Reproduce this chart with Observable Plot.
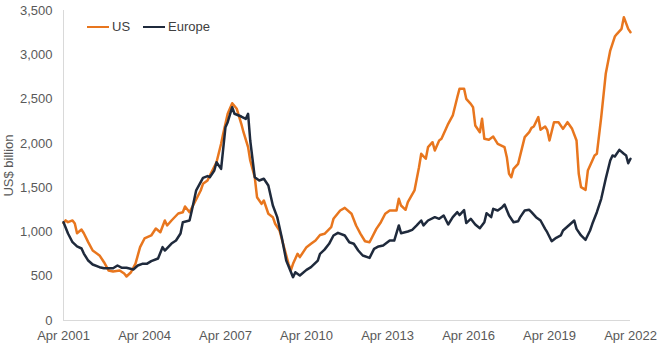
<!DOCTYPE html>
<html>
<head>
<meta charset="utf-8">
<script src="https://cdn.jsdelivr.net/npm/d3@7"></script>
<script src="https://cdn.jsdelivr.net/npm/@observablehq/plot@0.6"></script>
<style>
  html, body { margin: 0; padding: 0; background: #fff; }
  #wrap { position: relative; width: 660px; height: 351px; font-family: "Liberation Sans", Arial, sans-serif; }
  #legend { position: absolute; left: 87px; top: 19px; display: flex; align-items: center; font-size: 13px; color: #404040; }
  .item { display: flex; align-items: center; margin-right: 13px; }
  .swatch { width: 22px; height: 0; border-top: 2.5px solid; margin-right: 3px; }
</style>
</head>
<body>
<div id="wrap"></div>
<script>
const seriesNames = ["US", "Europe"];
const seriesColors = ["#E8761E", "#1F2A3C"];

const usDates = ["2001-04","2001-05","2001-06","2001-08","2001-09","2001-10","2001-12","2002-01","2002-03","2002-05","2002-08","2002-10","2002-12","2003-02","2003-05","2003-07","2003-08","2003-10","2003-12","2004-02","2004-04","2004-07","2004-09","2004-11","2005-01","2005-02","2005-04","2005-07","2005-09","2005-10","2005-12","2006-02","2006-05","2006-06","2006-08","2006-09","2006-12","2007-02","2007-03","2007-05","2007-07","2007-09","2007-11","2007-12","2008-02","2008-03","2008-05","2008-06","2008-08","2008-09","2008-11","2009-01","2009-02","2009-04","2009-06","2009-08","2009-09","2009-10","2009-12","2010-01","2010-04","2010-06","2010-08","2010-10","2010-12","2011-03","2011-04","2011-07","2011-09","2011-12","2012-02","2012-04","2012-06","2012-08","2012-11","2013-01","2013-03","2013-05","2013-08","2013-09","2013-10","2013-12","2014-01","2014-04","2014-06","2014-07","2014-09","2014-10","2014-12","2015-01","2015-03","2015-04","2015-06","2015-07","2015-09","2015-11","2015-12","2016-02","2016-03","2016-05","2016-06","2016-07","2016-09","2016-10","2016-11","2017-01","2017-03","2017-05","2017-08","2017-09","2017-10","2017-11","2017-12","2018-02","2018-05","2018-07","2018-08","2018-09","2018-11","2018-12","2019-02","2019-03","2019-04","2019-06","2019-08","2019-10","2019-12","2020-02","2020-04","2020-05","2020-06","2020-08","2020-09","2020-11","2020-12","2021-01","2021-03","2021-05","2021-07","2021-09","2021-10","2021-12","2022-01","2022-03","2022-04"];
const usValues = [1100,1130,1110,1130,1095,985,1027,985,885,790,735,658,565,553,565,530,497,545,643,828,926,960,1039,997,1129,1073,1129,1208,1223,1287,1223,1321,1468,1543,1581,1637,1787,1995,2108,2334,2453,2390,2221,2126,1957,1806,1618,1392,1317,1355,1205,1167,1092,1016,828,640,565,640,753,715,828,866,903,965,979,1053,1148,1242,1272,1205,1073,979,895,884,1035,1110,1205,1242,1242,1374,1298,1250,1336,1468,1731,1882,1826,1957,2013,1919,2032,2051,2164,2221,2315,2521,2616,2616,2503,2446,2408,2202,2126,2277,2051,2040,2077,1995,1957,1844,1656,1618,1712,1769,2070,2126,2175,2190,2296,2153,2190,2153,2032,2239,2239,2164,2239,2164,2032,1656,1505,1475,1693,1806,1863,1882,2296,2785,3048,3206,3237,3293,3425,3293,3255];

const euDates = ["2001-04","2001-06","2001-08","2001-10","2001-12","2002-01","2002-03","2002-05","2002-08","2002-10","2002-12","2003-02","2003-04","2003-06","2003-08","2003-11","2004-01","2004-03","2004-05","2004-07","2004-10","2004-12","2005-01","2005-04","2005-06","2005-08","2005-09","2005-12","2006-01","2006-03","2006-06","2006-08","2006-09","2006-11","2006-12","2007-02","2007-04","2007-05","2007-07","2007-08","2007-11","2008-01","2008-02","2008-03","2008-05","2008-07","2008-09","2008-11","2009-01","2009-03","2009-05","2009-07","2009-10","2009-11","2010-01","2010-04","2010-06","2010-09","2010-10","2010-12","2011-02","2011-04","2011-06","2011-09","2011-11","2012-01","2012-03","2012-05","2012-08","2012-10","2012-12","2013-02","2013-05","2013-07","2013-09","2013-10","2014-01","2014-03","2014-05","2014-07","2014-08","2014-10","2015-01","2015-03","2015-05","2015-07","2015-09","2015-11","2015-12","2016-02","2016-03","2016-05","2016-07","2016-09","2016-11","2016-12","2017-02","2017-03","2017-05","2017-07","2017-08","2017-10","2017-12","2018-02","2018-03","2018-05","2018-07","2018-08","2018-10","2018-12","2019-02","2019-03","2019-05","2019-07","2019-09","2019-10","2020-01","2020-03","2020-04","2020-06","2020-08","2020-10","2020-11","2021-01","2021-03","2021-05","2021-07","2021-08","2021-09","2021-11","2022-01","2022-02","2022-03","2022-04"];
const euValues = [1110,982,884,836,813,756,677,632,602,590,590,590,621,595,595,576,621,640,640,670,700,828,790,869,903,982,1110,1129,1242,1470,1610,1630,1618,1693,1787,1712,2182,2239,2408,2334,2303,2277,2334,2032,1618,1581,1600,1524,1298,1167,941,677,489,545,508,572,602,677,753,800,866,960,990,960,884,866,790,734,707,809,836,847,903,903,1073,986,1005,1024,1073,1129,1073,1129,1167,1148,1186,1084,1167,1223,1190,1246,1100,1148,1084,1042,1110,1212,1167,1261,1242,1280,1310,1186,1110,1121,1167,1242,1250,1223,1167,1129,1035,997,895,934,960,1016,1084,1129,1035,960,911,1016,1092,1223,1374,1600,1806,1863,1851,1927,1882,1863,1776,1826];

const xTicks = ["2001-04","2004-04","2007-04","2010-04","2013-04","2016-04","2019-04","2022-04"];
const yTicks = [0,500,1000,1500,2000,2500,3000,3500];
const yLabel = "US$ billion";

const parse = d3.utcParse("%Y-%m");
const us = usDates.map((d, i) => ({date: parse(d), value: usValues[i]}));
const eu = euDates.map((d, i) => ({date: parse(d), value: euValues[i]}));
const x0 = parse(xTicks[0]), x1 = parse(xTicks[xTicks.length - 1]);

const chart = Plot.plot({
  width: 660, height: 351,
  marginLeft: 63, marginRight: 30, marginTop: 10, marginBottom: 31,
  style: {fontFamily: "'Liberation Sans', Arial, sans-serif", fontSize: "13px", color: "#595959", background: "white"},
  x: {type: "utc", domain: [x0, x1]},
  y: {domain: [0, 3500]},
  marks: [
    Plot.ruleY([0], {stroke: "#d9d9d9", strokeWidth: 1}),
    Plot.ruleX([x0], {stroke: "#d9d9d9", strokeWidth: 1}),
    Plot.axisY({ticks: yTicks, tickFormat: d3.format(","), tickSize: 0, tickPadding: 11,
      label: yLabel, labelAnchor: "center", labelOffset: 60, labelArrow: "none"}),
    Plot.axisX({ticks: xTicks.map(parse), tickFormat: d3.utcFormat("%b %Y"), tickSize: 0, tickPadding: 10, label: null}),
    Plot.line(us, {x: "date", y: "value", stroke: seriesColors[0], strokeWidth: 2.5, curve: "linear"}),
    Plot.line(eu, {x: "date", y: "value", stroke: seriesColors[1], strokeWidth: 2.5, curve: "linear"})
  ]
});

const wrap = document.getElementById("wrap");
wrap.appendChild(chart);
const legend = document.createElement("div");
legend.id = "legend";
seriesNames.forEach((name, i) => {
  const item = document.createElement("div");
  item.className = "item";
  const sw = document.createElement("span");
  sw.className = "swatch";
  sw.style.borderColor = seriesColors[i];
  const label = document.createElement("span");
  label.textContent = name;
  item.appendChild(sw);
  item.appendChild(label);
  legend.appendChild(item);
});
wrap.appendChild(legend);
</script>
</body>
</html>
